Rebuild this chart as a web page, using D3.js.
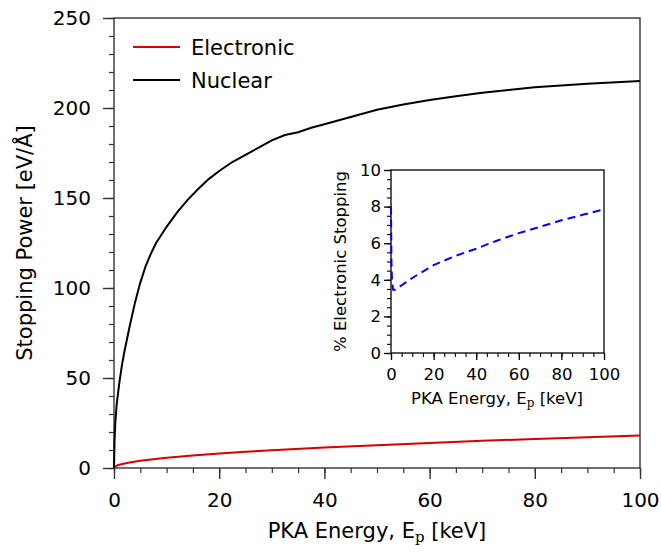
<!DOCTYPE html>
<html lang="en">
<head>
<meta charset="UTF-8">
<title>Stopping Power</title>
<style>
    body { margin: 0; background: #fff; }
    svg text { font-family: "DejaVu Sans", sans-serif; fill: #000; }
</style>
</head>
<body>
<div id="chart"></div>
<script src="https://d3js.org/d3.v7.min.js"></script>
<script>
    // Nuclear stopping power
    var nuclearE = [0, 0.1, 0.25, 0.5, 1, 1.5, 2, 3, 4, 5, 6, 7, 8, 10, 12, 14, 16, 18, 20, 22.5, 25, 27.5, 30, 32.5, 35, 37.5, 40, 45, 50, 55, 60, 65, 70, 75, 80, 90, 100];
    var nuclearS = [0, 15, 25, 35, 47, 57, 65, 79, 92, 103, 112, 119, 125, 134, 142, 149, 155, 160.5, 165, 170, 174, 178, 182, 185, 186.5, 189, 191, 195, 199, 202, 204.5, 206.5, 208.5, 210, 211.5, 213.5, 215];

    // Electronic stopping power
    var electronicE = [0, 0.5, 1, 2, 3, 5, 7.5, 10, 15, 20, 25, 30, 40, 50, 60, 70, 80, 90, 100];
    var electronicS = [0.3, 1.3, 1.8, 2.5, 3.1, 4.0, 4.9, 5.7, 7.0, 8.1, 9.0, 9.9, 11.4, 12.7, 13.9, 15.1, 16.1, 17.1, 18.0];

    // Inset: % electronic stopping
    var pctE = [0, 0.2, 0.5, 1, 2, 5, 10, 20, 30, 40, 50, 60, 70, 80, 90, 100];
    var pctVal = [8.0, 5.0, 3.9, 3.45, 3.45, 3.7, 4.1, 4.8, 5.3, 5.7, 6.15, 6.55, 6.9, 7.25, 7.55, 7.85];

    var mainXTicks = [0, 20, 40, 60, 80, 100];
    var mainYTicks = [0, 50, 100, 150, 200, 250];
    var insetXTicks = [0, 20, 40, 60, 80, 100];
    var insetYTicks = [0, 2, 4, 6, 8, 10];

    var W = 661, H = 554;
    var svg = d3.select("#chart").append("svg")
        .attr("width", W).attr("height", H);

    // ---------- main plot ----------
    var x = d3.scaleLinear().domain([0, 100]).range([114, 640]);
    var y = d3.scaleLinear().domain([0, 250]).range([468, 18]);
    var axisColor = "#333";

    // minor ticks
    svg.append("g").attr("transform", "translate(0,468)")
        .call(d3.axisBottom(x).tickValues(d3.range(0, 101, 5)).tickSize(5).tickFormat(""))
        .call(g => g.select(".domain").remove())
        .call(g => g.selectAll("line").attr("stroke", axisColor).attr("stroke-width", 1.2));
    svg.append("g").attr("transform", "translate(114,0)")
        .call(d3.axisLeft(y).tickValues(d3.range(0, 251, 10)).tickSize(5).tickFormat(""))
        .call(g => g.select(".domain").remove())
        .call(g => g.selectAll("line").attr("stroke", axisColor).attr("stroke-width", 1.2));

    // major ticks
    svg.append("g").attr("transform", "translate(0,468)")
        .call(d3.axisBottom(x).tickValues(mainXTicks).tickSize(11).tickPadding(14).tickFormat(d3.format("d")))
        .call(g => g.select(".domain").remove())
        .call(g => g.selectAll("line").attr("stroke", axisColor).attr("stroke-width", 1.4))
        .call(g => g.selectAll("text").attr("font-size", 20).attr("fill", "#000")
            .attr("font-family", "DejaVu Sans"));
    svg.append("g").attr("transform", "translate(114,0)")
        .call(d3.axisLeft(y).tickValues(mainYTicks).tickSize(11).tickPadding(12).tickFormat(d3.format("d")))
        .call(g => g.select(".domain").remove())
        .call(g => g.selectAll("line").attr("stroke", axisColor).attr("stroke-width", 1.4))
        .call(g => g.selectAll("text").attr("font-size", 20).attr("fill", "#000")
            .attr("font-family", "DejaVu Sans"));

    // frame
    svg.append("rect")
        .attr("x", 114).attr("y", 18).attr("width", 526).attr("height", 450)
        .attr("fill", "none").attr("stroke", axisColor).attr("stroke-width", 1.4);

    var line = d3.line().x(d => x(d[0])).y(d => y(d[1]));

    svg.append("path")
        .datum(electronicE.map((e, i) => [e, electronicS[i]]))
        .attr("d", line).attr("fill", "none")
        .attr("stroke", "#d40000").attr("stroke-width", 2);
    svg.append("path")
        .datum(nuclearE.map((e, i) => [e, nuclearS[i]]))
        .attr("d", line).attr("fill", "none")
        .attr("stroke", "#000").attr("stroke-width", 2);

    // legend
    var legend = [{ name: "Electronic", color: "#d40000" }, { name: "Nuclear", color: "#000" }];
    legend.forEach(function(d, i) {
        var ly = 47 + i * 33;
        svg.append("line").attr("x1", 133).attr("x2", 180).attr("y1", ly).attr("y2", ly)
            .attr("stroke", d.color).attr("stroke-width", 2);
        svg.append("text").attr("x", 191).attr("y", ly + 8)
            .attr("font-size", 21).text(d.name);
    });

    // axis labels
    var xl = svg.append("text").attr("x", 377).attr("y", 538)
        .attr("text-anchor", "middle").attr("font-size", 21);
    xl.append("tspan").text("PKA Energy, E");
    xl.append("tspan").attr("font-family", "DejaVu Serif").attr("font-size", 15)
        .attr("dy", 4).text("p");
    xl.append("tspan").attr("dy", -4).text(" [keV]");

    svg.append("text")
        .attr("transform", "translate(32,243) rotate(-90)")
        .attr("text-anchor", "middle").attr("font-size", 21)
        .text("Stopping Power [eV/Å]");

    // ---------- inset ----------
    var ix = d3.scaleLinear().domain([0, 100]).range([391, 604]);
    var iy = d3.scaleLinear().domain([0, 10]).range([353, 170]);

    svg.append("g").attr("transform", "translate(0,353)")
        .call(d3.axisBottom(ix).tickValues(d3.range(0, 101, 5)).tickSize(4).tickFormat(""))
        .call(g => g.select(".domain").remove())
        .call(g => g.selectAll("line").attr("stroke", "#000").attr("stroke-width", 1.1));
    svg.append("g").attr("transform", "translate(391,0)")
        .call(d3.axisLeft(iy).tickValues(d3.range(0, 10.01, 0.5)).tickSize(4).tickFormat(""))
        .call(g => g.select(".domain").remove())
        .call(g => g.selectAll("line").attr("stroke", "#000").attr("stroke-width", 1.1));

    svg.append("g").attr("transform", "translate(0,353)")
        .call(d3.axisBottom(ix).tickValues(insetXTicks).tickSize(7).tickPadding(8).tickFormat(d3.format("d")))
        .call(g => g.select(".domain").remove())
        .call(g => g.selectAll("line").attr("stroke", "#000").attr("stroke-width", 1.3))
        .call(g => g.selectAll("text").attr("font-size", 16.5).attr("fill", "#000")
            .attr("font-family", "DejaVu Sans"));
    svg.append("g").attr("transform", "translate(391,0)")
        .call(d3.axisLeft(iy).tickValues(insetYTicks).tickSize(7).tickPadding(3).tickFormat(d3.format("d")))
        .call(g => g.select(".domain").remove())
        .call(g => g.selectAll("line").attr("stroke", "#000").attr("stroke-width", 1.3))
        .call(g => g.selectAll("text").attr("font-size", 16.5).attr("fill", "#000")
            .attr("font-family", "DejaVu Sans"));

    svg.append("rect")
        .attr("x", 391).attr("y", 170).attr("width", 213).attr("height", 183)
        .attr("fill", "none").attr("stroke", "#000").attr("stroke-width", 1.3);

    var iline = d3.line().x(d => ix(d[0])).y(d => iy(d[1]));
    svg.append("path")
        .datum(pctE.map((e, i) => [e, pctVal[i]]))
        .attr("d", iline).attr("fill", "none")
        .attr("stroke", "#0000ff").attr("stroke-width", 2)
        .attr("stroke-dasharray", "8,5");

    var ixl = svg.append("text").attr("x", 497).attr("y", 404)
        .attr("text-anchor", "middle").attr("font-size", 16.5);
    ixl.append("tspan").text("PKA Energy, E");
    ixl.append("tspan").attr("font-family", "DejaVu Serif").attr("font-size", 12)
        .attr("dy", 3).text("p");
    ixl.append("tspan").attr("dy", -3).text(" [keV]");

    svg.append("text")
        .attr("transform", "translate(346,261.5) rotate(-90)")
        .attr("text-anchor", "middle").attr("font-size", 16.5)
        .text("% Electronic Stopping");
</script>
</body>
</html>
